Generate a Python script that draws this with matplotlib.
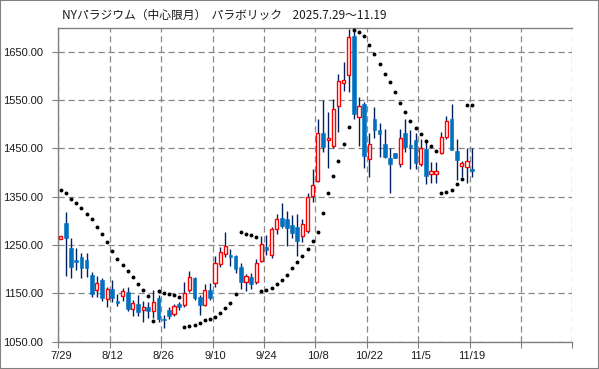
import matplotlib
matplotlib.use("Agg")
import matplotlib.pyplot as plt
from matplotlib.patches import Rectangle
import numpy as np

title = "NYパラジウム（中心限月）  パラボリック    2025.7.29～11.19"

tick_labels = ["7/29", "8/12", "8/26", "9/10", "9/24", "10/8", "10/22", "11/5", "11/19"]

opens = [1263, 1296, 1244, 1220, 1225, 1220, 1189, 1158, 1178, 1138,
         1159, 1134, 1145, 1153, 1117, 1129, 1115, 1122, 1114, 1140,
         1098, 1116, 1107, 1128, 1125, 1158, 1181, 1142, 1125, 1158,
         1171, 1210, 1231, 1229, 1228, 1205, 1174, 1183, 1173, 1218,
         1246, 1230, 1283, 1307, 1304, 1291, 1288, 1268, 1279, 1352,
         1383, 1481, 1467, 1456, 1537, 1585, 1603, 1682, 1516, 1542,
         1429, 1511, 1488, 1460, 1431, 1441, 1417, 1483, 1457, 1468,
         1417, 1449, 1397, 1397, 1440, 1474, 1511, 1445, 1414, 1412,
         1407]

highs = [1268, 1318, 1264, 1245, 1234, 1233, 1194, 1186, 1182, 1164,
         1178, 1148, 1161, 1163, 1136, 1146, 1134, 1133, 1156, 1147,
         1105, 1121, 1129, 1133, 1174, 1196, 1183, 1147, 1169, 1171,
         1228, 1247, 1277, 1242, 1230, 1212, 1191, 1192, 1222, 1268,
         1270, 1288, 1314, 1338, 1320, 1312, 1314, 1303, 1357, 1407,
         1512, 1550, 1525, 1552, 1604, 1628, 1697, 1700, 1556, 1547,
         1481, 1535, 1503, 1491, 1452, 1441, 1490, 1511, 1488, 1481,
         1469, 1468, 1422, 1422, 1484, 1517, 1542, 1469, 1425, 1450,
         1450]

lows = [1263, 1187, 1181, 1198, 1182, 1184, 1142, 1142, 1135, 1121,
        1133, 1124, 1135, 1114, 1104, 1104, 1091, 1100, 1100, 1091,
        1078, 1097, 1104, 1116, 1121, 1153, 1137, 1105, 1124, 1136,
        1163, 1205, 1226, 1206, 1193, 1160, 1154, 1160, 1170, 1216,
        1230, 1224, 1273, 1285, 1248, 1264, 1228, 1257, 1274, 1340,
        1381, 1442, 1409, 1450, 1484, 1569, 1567, 1510, 1456, 1410,
        1391, 1471, 1433, 1430, 1357, 1431, 1412, 1443, 1407, 1407,
        1414, 1376, 1379, 1379, 1438, 1470, 1446, 1385, 1390, 1379,
        1391]

closes = [1268, 1265, 1205, 1216, 1203, 1203, 1148, 1171, 1141, 1159,
          1141, 1131, 1154, 1117, 1131, 1111, 1122, 1114, 1133, 1096,
          1094, 1104, 1124, 1122, 1151, 1184, 1140, 1127, 1156, 1141,
          1212, 1236, 1249, 1225, 1200, 1174, 1187, 1169, 1212, 1252,
          1240, 1283, 1304, 1290, 1286, 1274, 1259, 1293, 1349, 1374,
          1483, 1453, 1471, 1531, 1589, 1591, 1680, 1522, 1537, 1435,
          1460, 1488, 1480, 1433, 1418, 1431, 1472, 1453, 1454, 1420,
          1450, 1393, 1403, 1403, 1473, 1507, 1446, 1426, 1419, 1424,
          1404]

sar = [1363, 1357, 1346, 1337, 1326, 1314, 1303, 1287, 1272, 1256,
       1238, 1221, 1208, 1197, 1183, 1169, 1157, 1144, 1092, 1155,
       1151, 1149, 1146, 1143, 1080, 1082, 1085, 1089, 1094, 1097,
       1102, 1110, 1120, 1131, 1149, 1277, 1273, 1270, 1266, 1155,
       1157, 1161, 1169, 1178, 1189, 1203, 1216, 1228, 1241, 1258,
       1278, 1316, 1358, 1392, 1425, 1460, 1494, 1696, 1691, 1682,
       1665, 1645, 1624, 1605, 1588, 1566, 1545, 1526, 1507, 1493,
       1479, 1466, 1456, 1445, 1357, 1359, 1365, 1376, 1386, 1541,
       1539]

W, H = 599, 369
fig = plt.figure(figsize=(W / 100, H / 100), dpi=100)
fig.patch.set_facecolor("white")

left, right, top, bottom = 58.3, 572.3, 27.7, 341.7
ax = fig.add_axes([left / W, (H - bottom) / H, (right - left) / W, (bottom - top) / H])

o = np.array(opens, float)
h = np.array(highs, float)
l = np.array(lows, float)
c = np.array(closes, float)
x = np.arange(len(o))
up = c >= o
body_bot = np.minimum(o, c)
body_h = np.maximum(np.abs(c - o), 2.5)

ax.vlines(x, l, h, color="#002060", lw=1.0, zorder=2)
ax.bar(x[up], body_h[up], bottom=body_bot[up], width=0.62,
       facecolor="white", edgecolor="#FF0000", linewidth=1.0, zorder=3)
ax.bar(x[~up], body_h[~up], bottom=body_bot[~up], width=0.72,
       facecolor="#0070C0", edgecolor="#0070C0", linewidth=0.4, zorder=3)
ax.plot(x, sar, linestyle="none", marker="o", ms=1.8, color="black", zorder=4)

ax.set_xlim(-0.5, 99.5)
ax.set_ylim(1050, 1700)

ax.set_xticks(np.arange(-0.5, 100, 10))
ax.set_xticklabels([])
ax.set_xticks(np.arange(0, 10 * len(tick_labels), 10), labels=tick_labels, minor=True)
ax.tick_params(axis="x", which="major", length=4, color="#808080", direction="out")
ax.tick_params(axis="x", which="minor", length=0, pad=7, labelsize=8)

yt = np.arange(1050, 1700, 100)
ax.set_yticks(yt)
ax.set_yticklabels([f"{v:.2f}" for v in yt])
ax.tick_params(axis="y", length=4, color="#808080", pad=7, labelsize=8)

for lab in ax.get_xticklabels(minor=True) + ax.get_yticklabels():
    lab.set_family(["Liberation Sans", "DejaVu Sans"])
    lab.set_color("#1a1a1a")

ax.grid(True, which="major", linestyle=(0, (5, 3)), color="#888888", lw=0.9)
ax.set_axisbelow(True)

for s in ["left", "bottom", "top"]:
    ax.spines[s].set_color("#808080")
    ax.spines[s].set_linewidth(1.0)
ax.spines["right"].set_visible(False)

fig.text(62 / W, 1 - 15 / H, title, ha="left", va="center", fontsize=8.5,
         family=["Noto Sans CJK JP", "DejaVu Sans"], color="#1a1a1a")

fig.add_artist(Rectangle((0, 0), 1, 1, transform=fig.transFigure, fill=False,
                         edgecolor="#808080", lw=1.5))

fig.savefig("out.png", dpi=100)
